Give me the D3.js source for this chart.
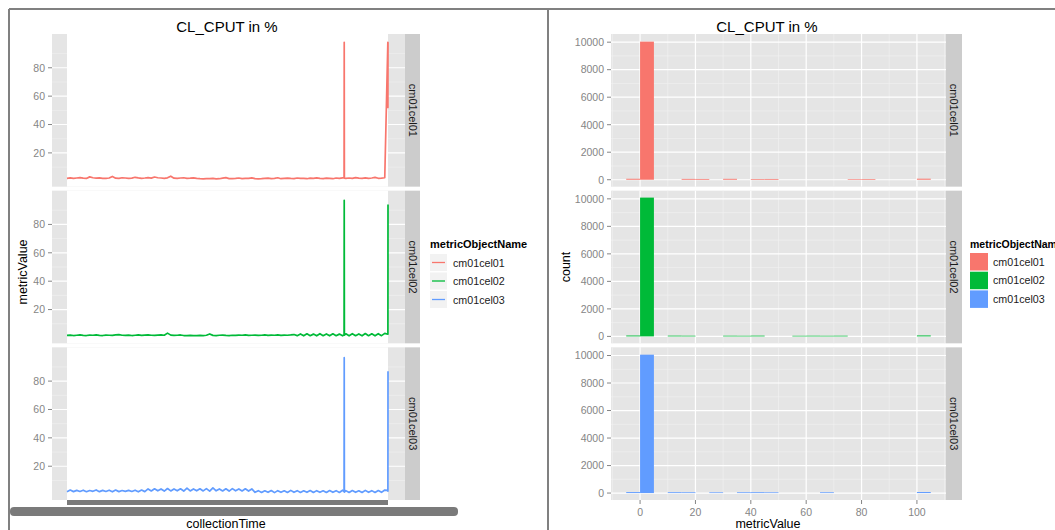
<!DOCTYPE html>
<html>
<head>
<meta charset="utf-8">
<script src="https://cdn.jsdelivr.net/npm/d3@7"></script>
<style>
  body { margin: 0; background: #fff; }
  text { font-family: "Liberation Sans", Arial, sans-serif; }
</style>
</head>
<body>
<div id="chart"></div>
<script>
// facets / legend
const cells = ["cm01cel01", "cm01cel02", "cm01cel03"];
const cellColors = ["#F8766D", "#00BA38", "#619CFF"];

// left chart: metricValue over collectionTime (hour index)
const collectionTime = [
    0, 1, 2, 3, 4, 5, 6, 7, 8, 9, 10, 11, 12, 13, 14, 15, 16, 17, 18, 19,
    20, 21, 22, 23, 24, 25, 26, 27, 28, 29, 30, 31, 32, 33, 34, 35, 36, 37, 38, 39,
    40, 41, 42, 43, 44, 45, 46, 47, 48, 49, 50, 51, 52, 53, 54, 55, 56, 57, 58, 59,
    60, 61, 62, 63, 64, 65, 66, 67, 68, 69, 70, 71, 72, 73, 74, 75, 76, 77, 78, 79,
    80, 81, 82, 83, 84, 85,
    85.45, 85.5, 85.55,
    86, 87, 88, 89, 90, 91, 92, 93, 94, 95, 96, 97, 98,
    98.95, 98.97, 99
];
const cel01Values = [
    2.1, 2.4, 2.0, 2.3, 2.6, 2.2, 2.0, 3.1, 2.5, 2.2, 2.4, 2.1, 2.0, 2.3, 3.4, 2.2, 2.1, 2.5, 2.3, 2.0,
    2.2, 2.8, 2.4, 2.1, 2.3, 2.6, 2.2, 3.0, 2.5, 2.3, 2.1, 2.4, 3.6, 2.2, 2.0, 2.3, 2.5, 2.1, 2.2, 2.4,
    2.0, 1.8, 1.7, 1.9, 1.8, 2.0, 1.7, 1.8, 2.2, 2.6, 1.9, 1.8, 2.0, 2.3, 1.9, 2.1, 2.0, 2.4, 1.9, 1.7,
    1.8, 2.0, 2.2, 1.9, 2.1, 2.5, 1.8, 2.0, 2.2, 2.0, 1.9, 2.3, 2.1, 2.0, 1.8, 2.2, 2.1, 2.4, 2.0, 1.9,
    2.2, 2.0, 1.8, 2.3, 2.1, 2.4,
    2.3, 98, 2.2,
    2.1, 2.3, 2.0, 2.6, 2.2, 2.1, 2.4, 2.0, 2.3, 2.7, 2.1, 2.2, 2.5,
    98, 52, 98
];
const cel02Values = [
    1.8, 2.0, 1.7, 1.9, 2.1, 1.8, 1.7, 2.0, 1.9, 2.2, 1.8, 1.7, 2.0, 1.9, 1.8, 2.1, 2.3, 1.9, 1.8, 2.0,
    1.7, 1.9, 2.1, 1.8, 2.0, 2.2, 1.9, 1.8, 2.0, 2.1, 1.9, 3.4, 2.0, 1.8, 1.9, 2.1, 1.7, 1.6, 1.8, 1.7,
    1.6, 1.8, 1.7, 1.9, 2.8, 1.8, 1.7, 1.9, 2.0, 1.8, 1.7, 1.9, 1.8, 2.0, 1.9, 2.2, 1.8, 1.9, 2.0, 1.8,
    1.9, 2.1, 1.8, 2.0, 1.9, 2.2, 1.8, 2.0, 1.9, 2.1, 2.4, 1.6, 2.8, 1.5, 2.9, 1.6, 2.7, 1.5, 3.0, 1.6,
    2.8, 1.5, 2.9, 1.6, 2.7, 1.5,
    2.0, 97, 1.9,
    2.9, 1.5, 3.0, 1.6, 2.8, 1.5, 3.1, 1.6, 2.9, 1.5, 3.0, 1.6, 3.2,
    2.6, 3.1, 94
];
const cel03Values = [
    2.0, 3.2, 2.1, 3.0, 2.2, 3.1, 2.0, 2.9, 2.3, 3.3, 2.1, 3.0, 2.2, 3.1, 2.0, 3.2, 2.1, 2.9, 2.3, 3.0,
    2.2, 3.1, 2.0, 3.2, 2.1, 4.0, 2.6, 4.1, 2.7, 4.0, 2.5, 4.3, 2.6, 4.0, 2.7, 4.1, 2.5, 4.6, 2.6, 4.0,
    2.7, 4.1, 2.6, 4.2, 2.5, 4.8, 2.7, 4.0, 2.6, 4.1, 2.5, 4.2, 2.7, 4.0, 2.6, 4.1, 2.5, 4.0, 1.6, 2.8,
    1.5, 2.7, 1.6, 2.9, 1.4, 2.8, 1.6, 2.7, 1.5, 3.0, 1.6, 2.8, 1.5, 2.7, 1.6, 2.9, 1.5, 2.8, 1.6, 2.7,
    1.5, 2.9, 1.6, 2.8, 1.5, 3.1,
    2.0, 96.5, 1.8,
    2.8, 1.5, 2.9, 1.6, 2.7, 1.5, 3.0, 1.6, 2.8, 1.5, 2.9, 1.6, 3.2,
    3.0, 2.4, 87
];
const lineTicks = [20, 40, 60, 80];
const lineMinor = [10, 30, 50, 70, 90];

// right chart: histogram of metricValue, binwidth 5
const binWidth = 5;
const binStarts = [-5, 0, 5, 10, 15, 20, 25, 30, 35, 40, 45, 50, 55, 60, 65, 70, 75, 80, 85, 90, 95, 100];
const cel01Counts = [70, 10040, 0, 0, 60, 55, 0, 65, 0, 50, 55, 0, 0, 0, 0, 0, 45, 50, 0, 0, 0, 75];
const cel02Counts = [65, 10090, 0, 55, 50, 0, 0, 50, 45, 55, 0, 0, 45, 50, 45, 50, 0, 0, 0, 0, 0, 70];
const cel03Counts = [70, 10060, 0, 60, 55, 0, 50, 0, 55, 60, 50, 0, 0, 0, 55, 0, 0, 0, 0, 0, 0, 75];
const countTicks = [0, 2000, 4000, 6000, 8000, 10000];
const countMinor = [1000, 3000, 5000, 7000, 9000];
const valueTicks = [0, 20, 40, 60, 80, 100];
const valueMinor = [-10, 10, 30, 50, 70, 90, 110];

const lineValues = [cel01Values, cel02Values, cel03Values];
const histCounts = [cel01Counts, cel02Counts, cel03Counts];

const svg = d3.select("#chart")
    .append("svg")
    .attr("width", 1055)
    .attr("height", 530);

svg.append("rect")
    .attr("width", 1055)
    .attr("height", 530)
    .attr("fill", "#fff");

const panelBg = "#E5E5E5";
const stripBg = "#CCCCCC";
const tickGrey = "#858585";

// facet rows shared by both charts
const facetTop = 34, facetBottom = 500, facetGap = 4;
const facetH = (facetBottom - facetTop - 2 * facetGap) / 3;
const facetY = i => facetTop + i * (facetH + facetGap);

// ---------------- left chart ----------------
const leftPanel = [52, 405];
const xTime = d3.scaleLinear().domain(d3.extent(collectionTime)).range([67, 388]);
const yLine = d3.scaleLinear().domain([-3.8, 103.8]).range([facetH, 0]);

cells.forEach((cell, i) => {
    const g = svg.append("g").attr("transform", `translate(0,${facetY(i)})`);

    g.append("rect")
        .attr("x", leftPanel[0])
        .attr("width", leftPanel[1] - leftPanel[0])
        .attr("height", facetH)
        .attr("fill", panelBg);

    g.selectAll(".minor").data(lineMinor).enter().append("line")
        .attr("x1", leftPanel[0]).attr("x2", leftPanel[1])
        .attr("y1", d => yLine(d)).attr("y2", d => yLine(d))
        .attr("stroke", "#F2F2F2").attr("stroke-width", 0.6);

    g.selectAll(".major").data(lineTicks).enter().append("line")
        .attr("x1", leftPanel[0]).attr("x2", leftPanel[1])
        .attr("y1", d => yLine(d)).attr("y2", d => yLine(d))
        .attr("stroke", "#fff").attr("stroke-width", 1.2);

    // the dense vertical gridlines of every collectionTime merge into white
    g.append("rect")
        .attr("x", xTime.range()[0])
        .attr("width", xTime.range()[1] - xTime.range()[0])
        .attr("height", facetH)
        .attr("fill", "#fff");

    const pts = collectionTime.map((t, k) => [t, lineValues[i][k]]);
    g.append("path")
        .attr("d", d3.line().x(d => xTime(d[0])).y(d => yLine(d[1]))(pts))
        .attr("fill", "none")
        .attr("stroke", cellColors[i])
        .attr("stroke-width", 1.7)
        .attr("stroke-linejoin", "round");

    // y axis
    g.selectAll(".tick").data(lineTicks).enter().append("line")
        .attr("x1", leftPanel[0] - 4).attr("x2", leftPanel[0])
        .attr("y1", d => yLine(d)).attr("y2", d => yLine(d))
        .attr("stroke", tickGrey);
    g.selectAll(".lab").data(lineTicks).enter().append("text")
        .attr("x", leftPanel[0] - 7)
        .attr("y", d => yLine(d) + 3.8)
        .attr("text-anchor", "end")
        .attr("font-size", 10.5)
        .attr("fill", tickGrey)
        .text(d => d);

    // strip
    g.append("rect")
        .attr("x", leftPanel[1])
        .attr("width", 15)
        .attr("height", facetH)
        .attr("fill", stripBg);
    g.append("text")
        .attr("transform", `translate(${leftPanel[1] + 3.5},${facetH / 2}) rotate(90)`)
        .attr("text-anchor", "middle")
        .attr("font-size", 11)
        .attr("fill", "#1A1A1A")
        .text(cell);
});

// x axis: ticks and labels of every time point overlap into grey bands
svg.append("rect")
    .attr("x", xTime.range()[0])
    .attr("y", facetBottom)
    .attr("width", xTime.range()[1] - xTime.range()[0])
    .attr("height", 5)
    .attr("fill", "#7A7A7A");
svg.append("rect")
    .attr("x", 10)
    .attr("y", 507)
    .attr("width", 448)
    .attr("height", 9)
    .attr("rx", 4)
    .attr("fill", "#7A7A7A");

svg.append("text")
    .attr("x", 227).attr("y", 32)
    .attr("text-anchor", "middle")
    .attr("font-size", 15)
    .text("CL_CPUT in %");
svg.append("text")
    .attr("x", 226).attr("y", 528)
    .attr("text-anchor", "middle")
    .attr("font-size", 12.5)
    .text("collectionTime");
svg.append("text")
    .attr("transform", "translate(27,272) rotate(-90)")
    .attr("text-anchor", "middle")
    .attr("font-size", 12.5)
    .text("metricValue");

// left legend
const legL = svg.append("g").attr("transform", "translate(430,0)");
legL.append("text")
    .attr("x", 0).attr("y", 248)
    .attr("font-size", 11)
    .attr("font-weight", "bold")
    .text("metricObjectName");
cells.forEach((cell, i) => {
    const y0 = 254 + i * 18.5;
    legL.append("rect")
        .attr("x", 0).attr("y", y0)
        .attr("width", 17).attr("height", 17)
        .attr("fill", "#F2F2F2");
    legL.append("line")
        .attr("x1", 2).attr("x2", 15)
        .attr("y1", y0 + 8.5).attr("y2", y0 + 8.5)
        .attr("stroke", cellColors[i])
        .attr("stroke-width", 1.3);
    legL.append("text")
        .attr("x", 23).attr("y", y0 + 12.5)
        .attr("font-size", 10.7)
        .attr("fill", "#1A1A1A")
        .text(cell);
});

// ---------------- right chart ----------------
const rightPanel = [611, 946];
const edgeMin = d3.min(binStarts), edgeMax = d3.max(binStarts) + binWidth;
const edgePad = (edgeMax - edgeMin) * 0.05;
const xValue = d3.scaleLinear().domain([edgeMin - edgePad, edgeMax + edgePad]).range(rightPanel);
const maxCount = d3.max(histCounts, c => d3.max(c));
const yCount = d3.scaleLinear().domain([-0.05 * maxCount, 1.05 * maxCount]).range([facetH, 0]);

cells.forEach((cell, i) => {
    const g = svg.append("g").attr("transform", `translate(0,${facetY(i)})`);

    g.append("rect")
        .attr("x", rightPanel[0])
        .attr("width", rightPanel[1] - rightPanel[0])
        .attr("height", facetH)
        .attr("fill", panelBg);

    g.selectAll(".vminor").data(valueMinor).enter().append("line")
        .attr("x1", d => xValue(d)).attr("x2", d => xValue(d))
        .attr("y1", 0).attr("y2", facetH)
        .attr("stroke", "#F2F2F2").attr("stroke-width", 0.6);
    g.selectAll(".hminor").data(countMinor).enter().append("line")
        .attr("x1", rightPanel[0]).attr("x2", rightPanel[1])
        .attr("y1", d => yCount(d)).attr("y2", d => yCount(d))
        .attr("stroke", "#F2F2F2").attr("stroke-width", 0.6);
    g.selectAll(".vmajor").data(valueTicks).enter().append("line")
        .attr("x1", d => xValue(d)).attr("x2", d => xValue(d))
        .attr("y1", 0).attr("y2", facetH)
        .attr("stroke", "#fff").attr("stroke-width", 1.2);
    g.selectAll(".hmajor").data(countTicks).enter().append("line")
        .attr("x1", rightPanel[0]).attr("x2", rightPanel[1])
        .attr("y1", d => yCount(d)).attr("y2", d => yCount(d))
        .attr("stroke", "#fff").attr("stroke-width", 1.2);

    g.selectAll(".bar").data(binStarts.map((b, k) => ({ b: b, c: histCounts[i][k] })))
        .enter().append("rect")
        .attr("x", d => xValue(d.b))
        .attr("width", d => xValue(d.b + binWidth) - xValue(d.b))
        .attr("y", d => yCount(d.c))
        .attr("height", d => yCount(0) - yCount(d.c))
        .attr("fill", cellColors[i]);

    g.selectAll(".tick").data(countTicks).enter().append("line")
        .attr("x1", rightPanel[0] - 4).attr("x2", rightPanel[0])
        .attr("y1", d => yCount(d)).attr("y2", d => yCount(d))
        .attr("stroke", tickGrey);
    g.selectAll(".lab").data(countTicks).enter().append("text")
        .attr("x", rightPanel[0] - 7)
        .attr("y", d => yCount(d) + 3.8)
        .attr("text-anchor", "end")
        .attr("font-size", 10.5)
        .attr("fill", tickGrey)
        .text(d => d);

    g.append("rect")
        .attr("x", rightPanel[1])
        .attr("width", 16)
        .attr("height", facetH)
        .attr("fill", stripBg);
    g.append("text")
        .attr("transform", `translate(${rightPanel[1] + 4},${facetH / 2}) rotate(90)`)
        .attr("text-anchor", "middle")
        .attr("font-size", 11)
        .attr("fill", "#1A1A1A")
        .text(cell);
});

// x axis of histogram
svg.selectAll(".xtick").data(valueTicks).enter().append("line")
    .attr("x1", d => xValue(d)).attr("x2", d => xValue(d))
    .attr("y1", facetBottom).attr("y2", facetBottom + 4)
    .attr("stroke", tickGrey);
svg.selectAll(".xlab").data(valueTicks).enter().append("text")
    .attr("x", d => xValue(d))
    .attr("y", facetBottom + 15.5)
    .attr("text-anchor", "middle")
    .attr("font-size", 10.5)
    .attr("fill", tickGrey)
    .text(d => d);

svg.append("text")
    .attr("x", 767).attr("y", 32)
    .attr("text-anchor", "middle")
    .attr("font-size", 15)
    .text("CL_CPUT in %");
svg.append("text")
    .attr("x", 768).attr("y", 528)
    .attr("text-anchor", "middle")
    .attr("font-size", 12.5)
    .text("metricValue");
svg.append("text")
    .attr("transform", "translate(570,267) rotate(-90)")
    .attr("text-anchor", "middle")
    .attr("font-size", 12.5)
    .text("count");

// right legend (title runs off the right edge, as in the original)
const legR = svg.append("g").attr("transform", "translate(970,0)");
legR.append("text")
    .attr("x", 0).attr("y", 248)
    .attr("font-size", 10.5)
    .attr("font-weight", "bold")
    .text("metricObjectName");
cells.forEach((cell, i) => {
    const y0 = 253 + i * 18.7;
    legR.append("rect")
        .attr("x", 0).attr("y", y0)
        .attr("width", 18).attr("height", 17.5)
        .attr("fill", cellColors[i]);
    legR.append("text")
        .attr("x", 23).attr("y", y0 + 12.5)
        .attr("font-size", 10.7)
        .attr("fill", "#1A1A1A")
        .text(cell);
});

// frames around the two plots
svg.append("line").attr("x1", 9).attr("x2", 1055).attr("y1", 9).attr("y2", 9)
    .attr("stroke", "#808080").attr("stroke-width", 2);
svg.append("line").attr("x1", 9).attr("x2", 9).attr("y1", 9).attr("y2", 530)
    .attr("stroke", "#808080").attr("stroke-width", 2);
svg.append("line").attr("x1", 548).attr("x2", 548).attr("y1", 9).attr("y2", 530)
    .attr("stroke", "#808080").attr("stroke-width", 2);
</script>
</body>
</html>
